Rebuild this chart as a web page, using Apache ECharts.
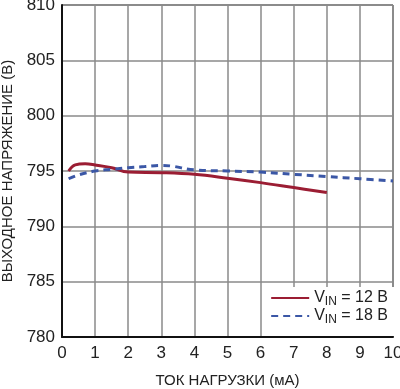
<!DOCTYPE html>
<html><head><meta charset="utf-8">
<script src="https://cdn.jsdelivr.net/npm/echarts@6/dist/echarts.min.js"></script>
<style>html,body{margin:0;padding:0;background:#fff}#c{width:400px;height:389px}</style>
</head><body><div id="c"></div>
<script>
const xTicks = [0,1,2,3,4,5,6,7,8,9,10];
const yTicks = [780,785,790,795,800,805,810];
const seriesNames = ['12 B', '18 B'];
const x12 = [0.2, 0.4, 0.7, 1.0, 1.5, 2, 3, 4, 5, 6, 7, 8];
const y12 = [795.0, 795.55, 795.65, 795.55, 795.3, 794.9, 794.85, 794.7, 794.35, 793.95, 793.5, 793.05];
const x18 = [0.2, 0.5, 1, 1.5, 2, 2.5, 3, 3.3, 4, 5, 6, 7, 8, 9, 10];
const y18 = [794.3, 794.65, 795.0, 795.15, 795.3, 795.4, 795.5, 795.45, 795.1, 795.0, 794.9, 794.7, 794.5, 794.3, 794.1];

const FONT = '"Liberation Sans", Arial, sans-serif';
const chart = echarts.init(document.getElementById('c'));
const pair = (xs, ys) => xs.map((x, i) => [x, ys[i]]);
chart.setOption({
  animation: false,
  textStyle: { fontFamily: FONT },
  grid: { left: 62, right: 7, top: 5, bottom: 52, show: true, borderColor: '#222', borderWidth: 1,
          containLabel: false, outerBoundsMode: 'none' },
  xAxis: {
    type: 'value', min: xTicks[0], max: xTicks[xTicks.length-1], interval: 1,
    name: 'ТОК НАГРУЗКИ (мА)', nameLocation: 'middle', nameGap: 36,
    nameTextStyle: { fontFamily: FONT, fontSize: 15, color: '#222' },
    axisLine: { show: true, lineStyle: { color: '#111', width: 2 } },
    axisTick: { show: false },
    axisLabel: { fontFamily: FONT, fontSize: 17, color: '#222', margin: 8 },
    splitLine: { show: true, lineStyle: { color: '#8a8a8a', width: 1.5 } }
  },
  yAxis: {
    type: 'value', min: yTicks[0], max: yTicks[yTicks.length-1], interval: 5,
    name: 'ВЫХОДНОЕ НАПРЯЖЕНИЕ (В)', nameLocation: 'middle', nameGap: 40,
    nameTextStyle: { fontFamily: FONT, fontSize: 15, color: '#222' },
    axisLine: { show: true, lineStyle: { color: '#111', width: 2 } },
    axisTick: { show: false },
    axisLabel: { fontFamily: FONT, fontSize: 17, color: '#222', margin: 7 },
    splitLine: { show: true, lineStyle: { color: '#8a8a8a', width: 1.5 } }
  },
  legend: {
    orient: 'vertical', right: 2, bottom: 53,
    backgroundColor: '#fff', padding: [3, 10, 10, 6], itemGap: 0,
    itemWidth: 38, itemHeight: 14,
    data: seriesNames,
    itemStyle: { opacity: 0 },
    formatter: n => '{a|V}{b|IN}{a| = ' + n + '}',
    textStyle: {
      rich: {
        a: { fontFamily: FONT, fontSize: 16, color: '#222', lineHeight: 20 },
        b: { fontFamily: FONT, fontSize: 12, color: '#222', padding: [8, 0, 0, 0] }
      }
    }
  },
  series: [
    { name: seriesNames[0], type: 'line', data: pair(x12, y12), smooth: 0.4, showSymbol: false,
      symbol: 'none', lineStyle: { color: '#9b1d33', width: 3 }, itemStyle: { color: '#9b1d33' } },
    { name: seriesNames[1], type: 'line', data: pair(x18, y18), smooth: 0.4, showSymbol: false,
      symbol: 'none', lineStyle: { color: '#3b57a6', width: 3, type: [7, 5] }, itemStyle: { color: '#3b57a6' } }
  ]
});
</script></body></html>
